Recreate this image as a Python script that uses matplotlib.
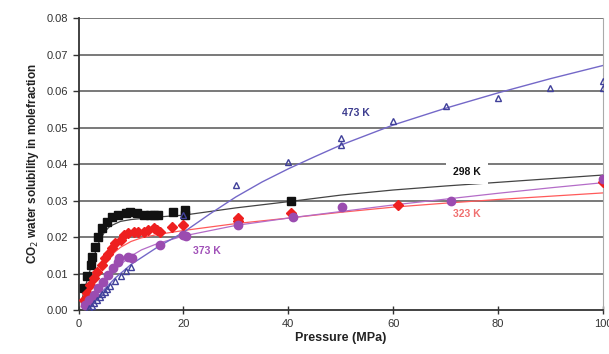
import matplotlib
matplotlib.use('Agg')
import matplotlib.pyplot as plt

plt.rcParams['font.family'] = ['Liberation Sans', 'DejaVu Sans']

# measured points, pressure in MPa, solubility in mole fraction
p_298 = [1.0, 1.6, 2.3, 2.6, 3.2, 3.8, 4.4, 5.4, 6.4, 7.6, 9.0, 9.9, 11.1, 12.5, 13.7, 14.3, 15.2, 18.0, 20.3, 20.3, 40.6]
x_298 = [0.006, 0.0093, 0.0123, 0.0146, 0.0173, 0.020, 0.0224, 0.024, 0.0256, 0.026, 0.0265, 0.027, 0.0267, 0.026, 0.026, 0.026, 0.026, 0.027, 0.0274, 0.026, 0.030]

p_323 = [1.0, 1.6, 2.2, 2.9, 3.5, 4.5, 5.1, 5.7, 6.4, 7.0, 8.0, 8.6, 9.5, 10.5, 11.4, 12.4, 13.3, 14.3, 15.0, 15.6, 17.8, 20.0, 30.5, 30.5, 40.6, 61.0, 100.0]
x_323 = [0.0027, 0.0046, 0.0068, 0.0087, 0.0105, 0.0123, 0.0142, 0.0155, 0.0169, 0.0183, 0.0192, 0.0205, 0.021, 0.0214, 0.0214, 0.0214, 0.022, 0.0224, 0.0219, 0.0215, 0.0227, 0.0233, 0.0252, 0.0245, 0.0265, 0.0288, 0.0352]

p_373 = [1.3, 1.9, 2.9, 3.8, 4.7, 5.7, 6.6, 7.6, 7.7, 9.5, 10.2, 15.6, 20.0, 20.4, 30.5, 40.9, 50.2, 71.0, 100.0]
x_373 = [0.0014, 0.0027, 0.0041, 0.006, 0.0078, 0.0096, 0.0115, 0.0132, 0.0142, 0.0146, 0.0142, 0.0178, 0.0205, 0.0203, 0.0233, 0.0256, 0.0282, 0.0299, 0.036]

p_473 = [2.0, 2.5, 3.0, 3.5, 4.0, 4.5, 5.0, 5.5, 6.0, 7.0, 8.0, 9.0, 10.0, 20.0, 30.0, 40.0, 50.0, 50.0, 60.0, 70.0, 80.0, 90.0, 100.0, 100.0]
x_473 = [0.0005, 0.0012, 0.002, 0.0028, 0.0035, 0.0043, 0.005, 0.0058, 0.0065, 0.008, 0.0093, 0.0106, 0.0118, 0.026, 0.0342, 0.0406, 0.0471, 0.0452, 0.0518, 0.0559, 0.058, 0.0608, 0.0627, 0.0608]

# model curves
cp_298 = [0.5, 1, 2, 3, 4, 5, 6, 8, 10, 15, 20, 30, 40, 50, 60, 70, 80, 90, 100]
c_298 = [0.002, 0.005, 0.010, 0.015, 0.019, 0.0215, 0.023, 0.0243, 0.0248, 0.0255, 0.026, 0.028, 0.0297, 0.0315, 0.0329, 0.034, 0.035, 0.036, 0.037]

cp_323 = [0.5, 1, 2, 3, 4, 5, 6, 7, 8, 10, 12, 15, 20, 30, 40, 50, 60, 70, 80, 90, 100]
c_323 = [0.001, 0.0025, 0.0055, 0.008, 0.0105, 0.0128, 0.0145, 0.016, 0.0172, 0.0188, 0.0198, 0.0207, 0.0218, 0.0237, 0.0252, 0.0268, 0.0282, 0.0293, 0.0303, 0.0312, 0.0321]

cp_373 = [1, 2, 3, 4, 5, 6, 8, 10, 12, 15, 20, 30, 40, 50, 60, 70, 80, 90, 100]
c_373 = [0.0012, 0.003, 0.0048, 0.0065, 0.0082, 0.0097, 0.0125, 0.0148, 0.0165, 0.0182, 0.0203, 0.0232, 0.0252, 0.027, 0.0288, 0.0304, 0.032, 0.0335, 0.0349]

cp_473 = [1.5, 3, 5, 7, 10, 15, 20, 25, 30, 35, 40, 45, 50, 60, 70, 80, 90, 100]
c_473 = [0.0, 0.0025, 0.0058, 0.0088, 0.0125, 0.0172, 0.0213, 0.0263, 0.031, 0.0351, 0.0387, 0.042, 0.0452, 0.0507, 0.0553, 0.0595, 0.0634, 0.067]

fig = plt.figure(figsize=(6.09, 3.54), dpi=100)
ax = fig.add_axes([0.129, 0.124, 0.861, 0.825])

for y in [0.01, 0.02, 0.03, 0.04, 0.05, 0.06, 0.07, 0.08]:
    ax.axhline(y, color='#555555', lw=1.1, zorder=0)

# curves
ax.plot(cp_298, c_298, color='#444444', lw=0.9, zorder=2)
ax.plot(cp_323, c_323, color='#ff5a5a', lw=0.9, zorder=2)
ax.plot(cp_373, c_373, color='#b46cc8', lw=0.9, zorder=2)
ax.plot(cp_473, c_473, color='#7468c8', lw=1.0, zorder=2)

# data
ax.plot(p_298, x_298, 's', color='#111111', ms=5.5, zorder=3)
ax.plot(p_323, x_323, 'D', color='#ee2020', ms=5, zorder=3)
ax.plot(p_373, x_373, 'o', color='#9b4cb0', ms=6, zorder=3)
ax.plot(p_473, x_473, '^', mfc='none', mec='#40409a', mew=1.0, ms=5, zorder=4)

ax.text(52.8, 0.054, '473 K', color='#3d3d8f', fontsize=7.5, fontweight='bold', ha='center', va='center')
ax.text(74.1, 0.0379, '298 K', color='#111111', fontsize=7.5, fontweight='bold', ha='center', va='center',
        bbox=dict(facecolor='white', edgecolor='none', pad=5))
ax.text(74.1, 0.0263, '323 K', color='#f07070', fontsize=7.5, fontweight='bold', ha='center', va='center')
ax.text(24.4, 0.0162, '373 K', color='#a050b8', fontsize=7.5, fontweight='bold', ha='center', va='center')

ax.set_xlim(0, 100)
ax.set_ylim(0, 0.08)
ax.set_xticks([0, 20, 40, 60, 80, 100])
ax.set_yticks([0.0, 0.01, 0.02, 0.03, 0.04, 0.05, 0.06, 0.07, 0.08])
ax.set_yticklabels(['0.00', '0.01', '0.02', '0.03', '0.04', '0.05', '0.06', '0.07', '0.08'])
ax.tick_params(labelsize=8, colors='#333333', length=4, width=1)
ax.tick_params(axis='x', direction='inout', length=6)
ax.spines['top'].set_visible(False)
ax.spines['right'].set_color('#aaaaaa')
ax.spines['left'].set_color('#333333')
ax.spines['bottom'].set_color('#333333')
ax.spines['left'].set_linewidth(1.3)
ax.spines['bottom'].set_linewidth(1.3)

ax.set_xlabel('Pressure (MPa)', fontsize=9, fontweight='bold', color='#222222', labelpad=2)
ax.set_ylabel('CO$_2$ water solubility in molefraction', fontsize=8.5, fontweight='bold', color='#222222', labelpad=4)

fig.savefig('out.png', dpi=100)
